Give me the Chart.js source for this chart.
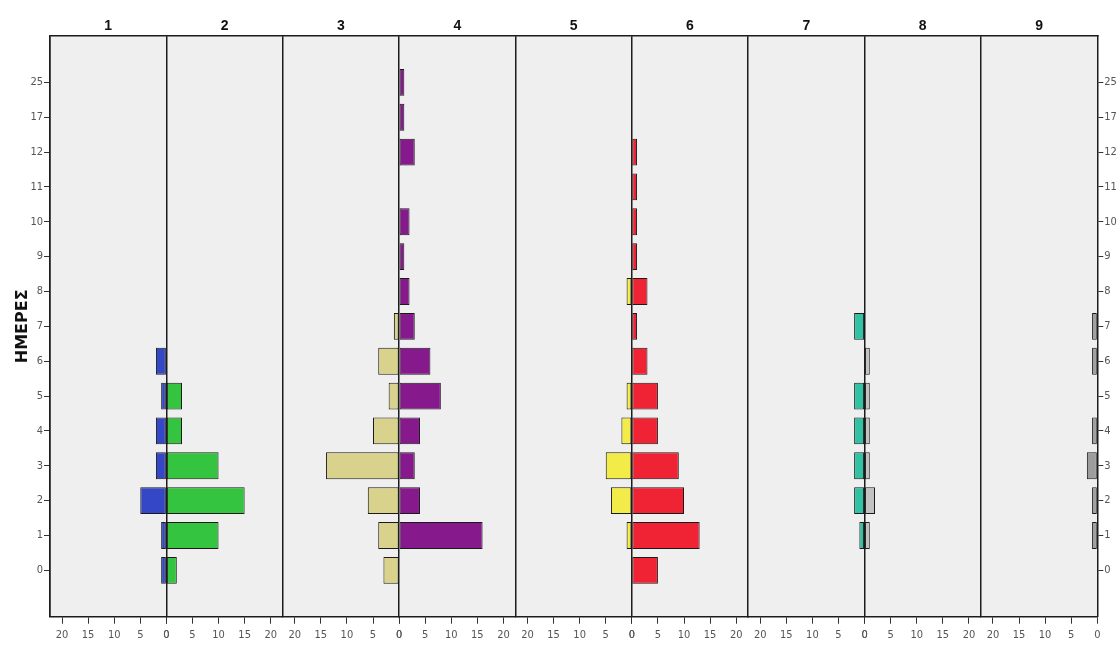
<!DOCTYPE html>
<html>
<head>
<meta charset="utf-8">
<script src="https://cdn.jsdelivr.net/npm/chart.js@4/dist/chart.umd.min.js"></script>
<style>
  html, body { margin: 0; padding: 0; background: #ffffff; }
  canvas { display: block; }
</style>
</head>
<body>
<canvas id="chart" width="1119" height="646"></canvas>
<script>
// Day categories, bottom to top
const days = ['0', '1', '2', '3', '4', '5', '6', '7', '8', '9', '10', '11', '12', '17', '25'];
// Panel headers
const panels = ['1', '2', '3', '4', '5', '6', '7', '8', '9'];
// Tick values on every panel's value axis
const xTicks = [0, 5, 10, 15, 20];

// Counts per day (same order as `days`) for each panel
const group1 = [1, 1, 5, 2, 2, 1, 2, 0, 0, 0, 0, 0, 0, 0, 0];
const group2 = [2, 10, 15, 10, 3, 3, 0, 0, 0, 0, 0, 0, 0, 0, 0];
const group3 = [3, 4, 6, 14, 5, 2, 4, 1, 0, 0, 0, 0, 0, 0, 0];
const group4 = [0, 16, 4, 3, 4, 8, 6, 3, 2, 1, 2, 0, 3, 1, 1];
const group5 = [0, 1, 4, 5, 2, 1, 0, 0, 1, 0, 0, 0, 0, 0, 0];
const group6 = [5, 13, 10, 9, 5, 5, 3, 1, 3, 1, 1, 1, 1, 0, 0];
const group7 = [0, 1, 2, 2, 2, 2, 0, 2, 0, 0, 0, 0, 0, 0, 0];
const group8 = [0, 1, 2, 1, 1, 1, 1, 0, 0, 0, 0, 0, 0, 0, 0];
const group9 = [0, 1, 1, 2, 1, 0, 1, 1, 0, 0, 0, 0, 0, 0, 0];

const series = [group1, group2, group3, group4, group5, group6, group7, group8, group9];
const barColors = ['#3447c6', '#35c440', '#d9d28c', '#861a8c', '#f3ec48',
                   '#ef2334', '#31c1a3', '#c2c2c2', '#9d9d9d'];

const AXIS_MAX = 22.3;     // value range shown on each side of a panel
const PAD_DAYS = 1.33;     // empty band above and below the day rows

const tickFont = { family: "'Liberation Sans Narrow', 'DejaVu Sans Condensed', sans-serif", size: 11 };
const lineColor = '#1c1c1c';

const scales = {};

// Shared day axis on the left, mirrored on the right
const dayAxis = (position) => ({
  type: 'linear',
  position: position,
  offset: false,
  min: -PAD_DAYS,
  max: days.length - 1 + PAD_DAYS,
  afterBuildTicks: (s) => { s.ticks = days.map((_, k) => ({ value: k })); },
  ticks: { callback: (v) => days[v], font: tickFont, color: '#555', padding: 1, autoSkip: false },
  grid: { offset: false, drawOnChartArea: false, drawTicks: true, tickLength: 6, color: '#333' },
  border: { display: true, color: lineColor, width: 1.5 }
});

scales.y = Object.assign(dayAxis('left'), {
  title: {
    display: true, text: 'ΗΜΕΡΕΣ', color: '#111',
    font: { family: "'DejaVu Sans', sans-serif", size: 16, weight: 'bold' },
    padding: { top: 13, bottom: 0 }
  },
  afterFit: (s) => { s.width = 50; }
});
scales.yRight = Object.assign(dayAxis('right'), {
  axis: 'y',
  afterFit: (s) => { s.width = 21.7; }
});

// One value axis per panel along the bottom; odd panels grow leftwards
series.forEach((_, i) => {
  scales['x' + (i + 1)] = {
    type: 'linear',
    position: 'bottom',
    stack: 'panels',
    stackWeight: 1,
    min: 0,
    max: AXIS_MAX,
    reverse: i % 2 === 0,
    afterBuildTicks: (s) => { s.ticks = xTicks.map((v) => ({ value: v })); },
    afterFit: (s) => { s.height = 29.3; },
    ticks: { font: tickFont, color: '#555', padding: 5, maxRotation: 0, autoSkip: false },
    grid: { drawOnChartArea: false, drawTicks: true, tickLength: 7, color: '#333' },
    border: { display: true, color: lineColor, width: 1.5 }
  };
});

// Header strip: one axis per panel carrying its number; its single grid line
// marks the panel's left edge
for (let i = panels.length - 1; i >= 0; i--) {
  scales['xTop' + (i + 1)] = {
    axis: 'x',
    type: 'linear',
    position: 'top',
    stack: 'headers',
    stackWeight: 1,
    min: 0,
    max: 1,
    afterBuildTicks: (s) => { s.ticks = [{ value: 0 }]; },
    afterFit: (s) => { s.height = 36; },
    ticks: { display: false },
    grid: { display: true, drawOnChartArea: true, drawTicks: false, color: lineColor, lineWidth: 1.5 },
    border: { display: true, color: lineColor, width: 1.5 },
    title: {
      display: true, text: panels[i], color: '#111',
      font: { family: "'Liberation Sans', Arial, sans-serif", size: 14, weight: 'bold' },
      padding: { top: 18, bottom: 0 }
    }
  };
}

const datasets = series.map((vals, i) => ({
  label: panels[i],
  data: vals.map((v, k) => ({ x: v, y: k })).filter((p) => p.x > 0),
  xAxisID: 'x' + (i + 1),
  yAxisID: 'y',
  backgroundColor: barColors[i],
  borderColor: '#1a1a1a',
  borderWidth: 1,
  borderSkipped: false,
  grouped: false,
  categoryPercentage: 1,
  barPercentage: 0.77
}));

// Light plot background inside the frame
const plotBackground = {
  id: 'plotBackground',
  beforeDraw(chart) {
    const { ctx, chartArea: a } = chart;
    ctx.save();
    ctx.fillStyle = '#ffffff';
    ctx.fillRect(0, 0, chart.width, chart.height);
    ctx.fillStyle = '#efefef';
    ctx.fillRect(a.left, a.top, a.right - a.left, a.bottom - a.top);
    ctx.restore();
  }
};

new Chart(document.getElementById('chart'), {
  type: 'bar',
  data: { datasets },
  options: {
    indexAxis: 'y',
    responsive: false,
    animation: false,
    devicePixelRatio: 1,
    layout: { padding: 0 },
    plugins: { legend: { display: false }, tooltip: { enabled: false } },
    scales
  },
  plugins: [plotBackground]
});
</script>
</body>
</html>
